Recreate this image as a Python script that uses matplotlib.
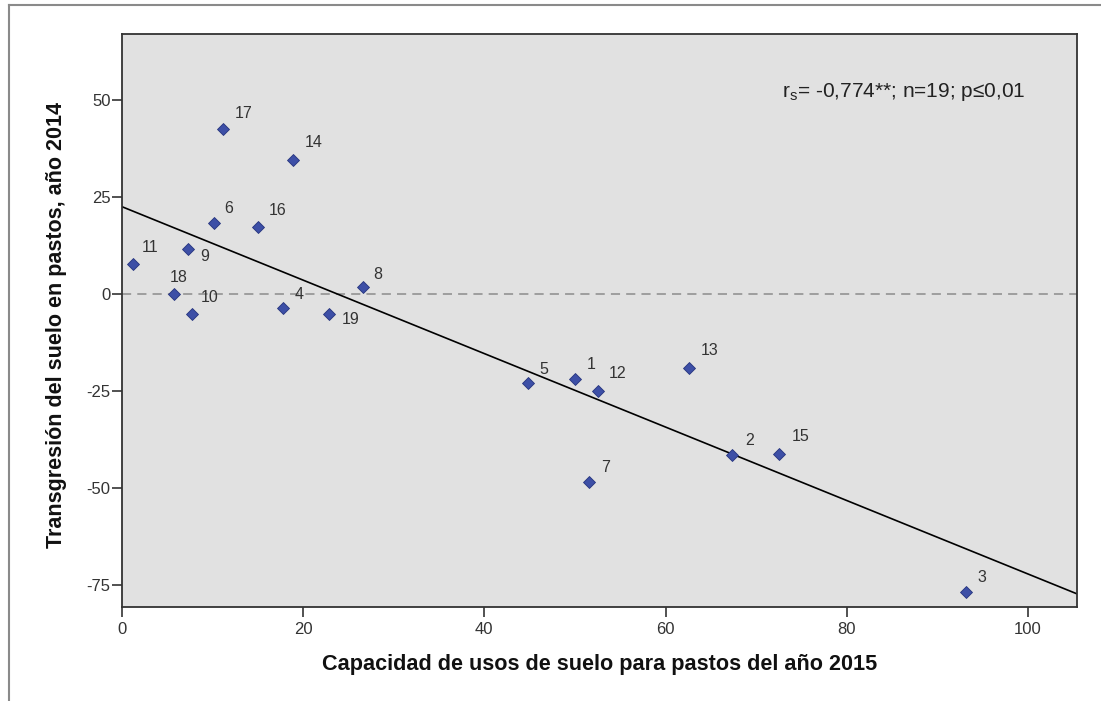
import numpy as np
import matplotlib
matplotlib.use("Agg")
import matplotlib.pyplot as plt
from matplotlib.lines import Line2D

plt.rcParams['font.family'] = ['Liberation Sans', 'DejaVu Sans']
plt.rcParams['mathtext.fontset'] = 'custom'
plt.rcParams['mathtext.rm'] = 'Liberation Sans'
plt.rcParams['axes.unicode_minus'] = False

# case ids and values
ids = [str(i) for i in range(1, 20)]
capacidad = [49.97, 67.39, 93.1, 17.83, 44.79, 10.15, 51.54, 26.65, 7.35, 7.76,
             1.25, 52.58, 62.55, 18.86, 72.57, 15.07, 11.14, 5.77, 22.83]
transgresion = [-21.9, -41.6, -76.8, -3.7, -23.0, 18.4, -48.5, 1.7, 11.5, -5.3,
                7.8, -25.0, -19.1, 34.6, -41.2, 17.2, 42.4, 0.0, -5.1]
xticks = [0, 20, 40, 60, 80, 100]
yticks = [-75, -50, -25, 0, 25, 50]

# label offsets in pixels (left edge, vertical centre)
label_offsets = [(12, 14), (13, 15), (12, 14), (11, 14), (12, 14), (11, 14),
                 (12, 15), (10, 13), (12, -7), (9, 17), (9, 16), (10, 17),
                 (12, 18), (12, 17), (12, 17), (10, 17), (12, 16), (-4, 16),
                 (13, -6)]

fig = plt.figure(figsize=(11.01, 7.01), dpi=100)
ax = fig.add_axes([121.7 / 1101, 1 - 607 / 701, (1077 - 121.7) / 1101, (607 - 34) / 701])
ax.set_facecolor('#e1e1e1')

x = np.array(capacidad)
y = np.array(transgresion)
slope, intercept = np.polyfit(x, y, 1)
xlim = (0, 105.4)
xs = np.array(xlim)
ax.plot(xs, intercept + slope * xs, color='black', lw=1.2, zorder=2)
ax.axhline(0, color='#8c8c8c', lw=1.1, ls=(0, (6, 4)), zorder=1)

ax.plot(x, y, 'D', ms=6.5, color='#3d4fa6', mec='#26347e', mew=0.6, zorder=3)
for i, lab in enumerate(ids):
    dx, dy = label_offsets[i]
    ax.annotate(lab, (x[i], y[i]), xytext=(dx, dy), textcoords='offset pixels',
                ha='left', va='center', fontsize=11.5, color='#333333')

ax.set_xlim(*xlim)
ax.set_ylim(-80.7, 67.0)
ax.set_xticks(xticks)
ax.set_yticks(yticks)
ax.tick_params(axis='x', length=7, width=1.2, color='#333333', labelsize=12,
               labelcolor='#333333', pad=4)
ax.tick_params(axis='y', length=7, width=1.2, color='#333333', labelsize=12,
               labelcolor='#333333', pad=1)
for sp in ax.spines.values():
    sp.set_color('#333333')
    sp.set_linewidth(1.3)

ax.text(781.7 / 1101, 1 - 92 / 701, r'r$_{\mathrm{s}}$= -0,774**; n=19; p≤0,01',
        transform=fig.transFigure, ha='left', va='center', fontsize=15, color='#222222')

fig.text(599.5 / 1101, 1 - 670 / 701, 'Capacidad de usos de suelo para pastos del año 2015',
         ha='center', va='baseline', fontsize=15.6, fontweight='bold', color='#111111')
fig.text(57 / 1101, 1 - 325 / 701, 'Transgresión del suelo en pastos, año 2014',
         ha='center', va='center', rotation=90, fontsize=15.5, fontweight='bold',
         color='#111111')

# outer frame (top and left edges visible)
fig.add_artist(Line2D([9 / 1101, 9 / 1101], [0, 1 - 5 / 701], color='#8a8a8a', lw=1.5,
                      transform=fig.transFigure))
fig.add_artist(Line2D([9 / 1101, 1], [1 - 5 / 701, 1 - 5 / 701], color='#8a8a8a', lw=1.5,
                      transform=fig.transFigure))

fig.savefig('out.png', dpi=100)
